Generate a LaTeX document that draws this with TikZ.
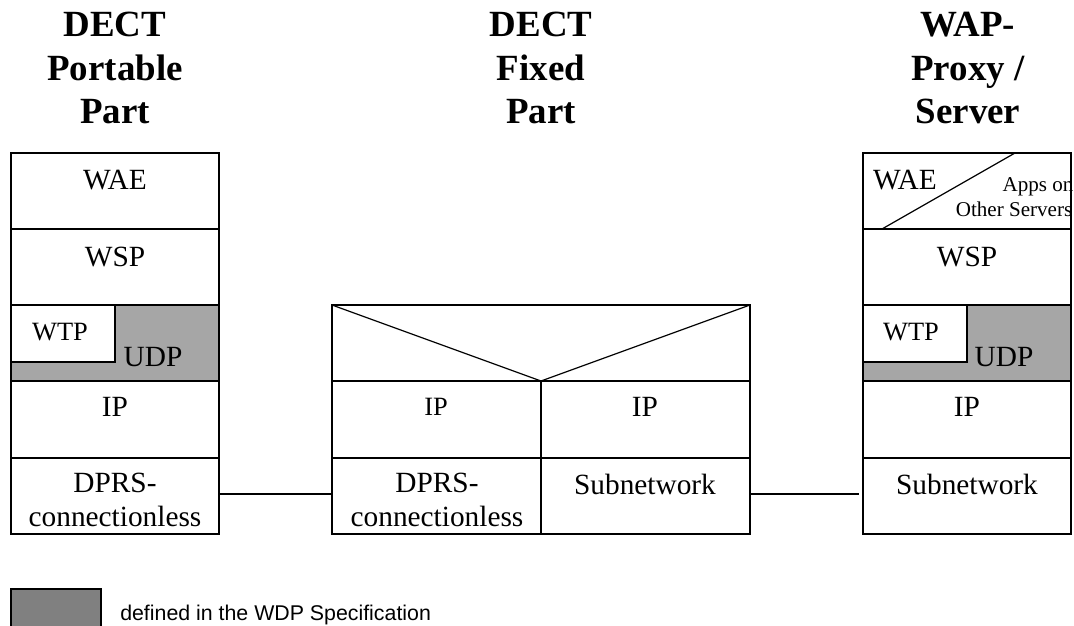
\documentclass[tikz,border=0pt]{standalone}
\usepackage{fontspec}
\setmainfont{Liberation Serif}
\newfontfamily\lsans{Liberation Sans}
\definecolor{wdp}{HTML}{A6A6A6}
\definecolor{wdpdark}{HTML}{808080}
\tikzset{x=0.75pt,y=-0.75pt,
 layerbox/.style={draw=black,line width=0.9pt,fill=white,inner sep=0pt},
 grey/.style={draw=black,line width=0.9pt,fill=wdp},
 lab/.style={inner sep=0pt,font=\fontsize{22pt}{25.5pt}\selectfont,align=center},
 midlab/.style={inner sep=0pt,font=\fontsize{19.8pt}{22pt}\selectfont,align=center},
 smalllab/.style={inner sep=0pt,font=\fontsize{15.8pt}{18pt}\selectfont,align=center},
 head/.style={inner sep=0pt,font=\fontsize{27.7pt}{32.6pt}\selectfont\bfseries,align=center},
 link/.style={draw=black,line width=0.9pt}}
\begin{document}
\begin{tikzpicture}
\useasboundingbox (0,0) rectangle (1074,625);
\fill[white] (0,0) rectangle (1074,625);
\node[head] (h1) at (115,68) {DECT\\Portable\\Part};
\node[head] (h2) at (541,68) {DECT\\Fixed\\Part};
\node[head] (h3) at (968,68) {WAP-\\Proxy /\\Server};
% left stack
\draw[layerbox] (11,153) rectangle (219,534);
\draw[grey] (11,305) rectangle (219,381);
\draw[layerbox] (11,305) rectangle (115,362);
\draw[link] (11,229) -- (219,229) (11,381) -- (219,381) (11,458) -- (219,458);
\node[lab] (l1) at (115,180) {WAE};
\node[lab] (l2) at (115,257) {WSP};
\node[midlab] (l3) at (60,332) {WTP};
\node[lab] (l4) at (153,357) {UDP};
\node[lab] (l5) at (115,407) {IP};
\node[lab] (l6) at (115,500) {DPRS-\\connectionless};
% middle
\draw[layerbox] (332,305) rectangle (750,534);
\draw[link] (332,381) -- (750,381) (332,458) -- (750,458) (541,381) -- (541,534);
\draw[link] (332,305) -- (541,381) -- (750,305);
\node[midlab] (m1) at (436,407) {IP};
\node[lab] (m2) at (645,407) {IP};
\node[lab] (m3) at (437,500) {DPRS-\\connectionless};
\node[lab] (m4) at (645,484) {Subnetwork};
% right
\draw[layerbox] (863,153) rectangle (1071,534);
\draw[grey] (863,305) rectangle (1071,381);
\draw[layerbox] (863,305) rectangle (967,362);
\draw[link] (863,229) -- (1071,229) (863,381) -- (1071,381) (863,458) -- (1071,458);
\draw[link] (882,229) -- (1015,153);
\node[lab] (r1) at (905,180) {WAE};
\node[smalllab] (r1a) at (1038,187) {Apps on};
\node[smalllab] (r1b) at (1014,209) {Other Servers};
\node[lab] (r2) at (967,257) {WSP};
\node[midlab] (r3) at (911,332) {WTP};
\node[lab] (r4) at (1004,357) {UDP};
\node[lab] (r5) at (967,407) {IP};
\node[lab] (r6) at (967,484) {Subnetwork};
% links
\coordinate (la) at (219,494);
\coordinate (lb) at (332,494);
\coordinate (lc) at (750,494);
\coordinate (ld) at (859,494);
\draw[link] (la) -- (lb);
\draw[link] (lc) -- (ld);
% legend
\fill[wdpdark,draw=black,line width=0.9pt] (11,589) rectangle (101,640);
\node[inner sep=0pt,anchor=west,font=\lsans\fontsize{16pt}{18pt}\selectfont] (legt) at (120,614.5) {defined in the WDP Specification};
\end{tikzpicture}
\end{document}
